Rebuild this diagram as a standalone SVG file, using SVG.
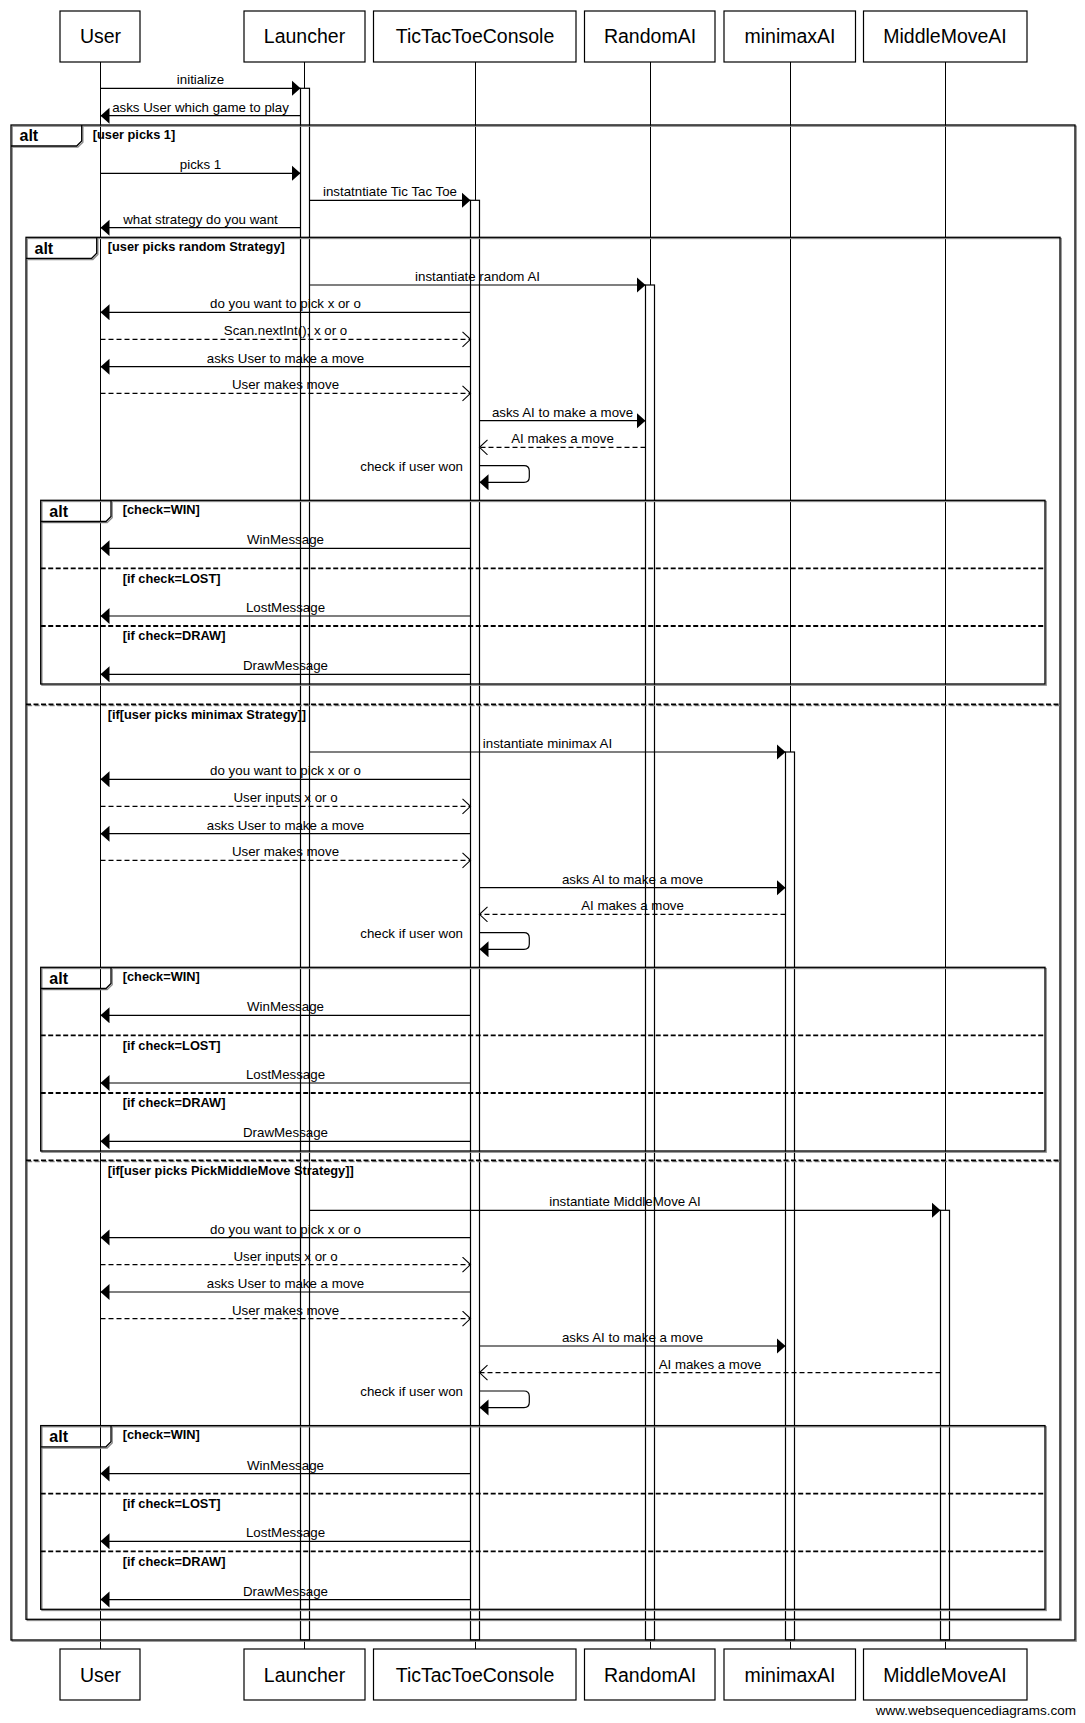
<svg xmlns="http://www.w3.org/2000/svg" width="1085" height="1723" viewBox="0 0 1085 1723">
<style>
.box{fill:#fff;stroke:#000;stroke-width:1.2}
.pname{font-family:"Liberation Sans",Arial,sans-serif;font-size:19.5px;text-anchor:middle;fill:#000}
.life{stroke:#000;stroke-width:1;fill:none}
.act{fill:#fff;stroke:#000;stroke-width:1.2}
.frame{fill:none;stroke:#000;stroke-width:1.3}
.shadow{fill:none;stroke:#8a8a8a;stroke-width:1.3}
.sep{fill:none;stroke:#000;stroke-width:1.8;stroke-dasharray:5,2.5}
.msg{stroke:#000;stroke-width:1.2;fill:none;marker-end:url(#fa)}
.ret{stroke:#000;stroke-width:1.2;fill:none;stroke-dasharray:5,3;marker-end:url(#oa)}
.lbl{font-family:"Liberation Sans",Arial,sans-serif;font-size:13.3px;text-anchor:middle;fill:#000}
.lblr{font-family:"Liberation Sans",Arial,sans-serif;font-size:13.3px;text-anchor:end;fill:#000}
.alt{font-family:"Liberation Sans",Arial,sans-serif;font-size:16px;font-weight:bold;fill:#000}
.cond{font-family:"Liberation Sans",Arial,sans-serif;font-size:12.8px;font-weight:bold;fill:#000}
.wm{font-family:"Liberation Sans",Arial,sans-serif;font-size:13.5px;text-anchor:end;fill:#000}
</style>
<defs>
<marker id="fa" markerUnits="userSpaceOnUse" markerWidth="10" markerHeight="17" refX="9" refY="8" orient="auto">
<path d="M0,0 L9,8 L0,16 Z" fill="#000"/>
</marker>
<marker id="oa" markerUnits="userSpaceOnUse" markerWidth="10" markerHeight="17" refX="8.5" refY="8" orient="auto">
<path d="M0.5,0.5 L8.5,8 L0.5,15.5" fill="none" stroke="#000" stroke-width="1.1"/>
</marker>
</defs>
<rect width="1085" height="1723" fill="#fff"/>

<g id="lifelines">
<line class="life" x1="100.5" y1="62" x2="100.5" y2="1649"/>
<line class="life" x1="304.5" y1="62" x2="304.5" y2="1649"/>
<line class="life" x1="475.5" y1="62" x2="475.5" y2="1649"/>
<line class="life" x1="650.5" y1="62" x2="650.5" y2="1649"/>
<line class="life" x1="790.5" y1="62" x2="790.5" y2="1649"/>
<line class="life" x1="945.5" y1="62" x2="945.5" y2="1649"/>
</g>

<g id="participant-User">
<rect class="box" x="60" y="11" width="80" height="51"/>
<text class="pname" x="100.5" y="43.3">User</text>
<rect class="box" x="60" y="1649" width="80" height="51"/>
<text class="pname" x="100.5" y="1681.5">User</text>
</g>
<g id="participant-Launcher">
<rect class="box" x="244" y="11" width="121" height="51"/>
<text class="pname" x="304.5" y="43.3">Launcher</text>
<rect class="box" x="244" y="1649" width="121" height="51"/>
<text class="pname" x="304.5" y="1681.5">Launcher</text>
<rect class="act" x="300.5" y="88.3" width="9" height="1551.7"/>
</g>
<g id="participant-TicTacToeConsole">
<rect class="box" x="373.5" y="11" width="202.5" height="51"/>
<text class="pname" x="475" y="43.3">TicTacToeConsole</text>
<rect class="box" x="373.5" y="1649" width="202.5" height="51"/>
<text class="pname" x="475" y="1681.5">TicTacToeConsole</text>
<rect class="act" x="470.5" y="200.3" width="9" height="1439.7"/>
</g>
<g id="participant-RandomAI">
<rect class="box" x="584.5" y="11" width="130.5" height="51"/>
<text class="pname" x="650" y="43.3">RandomAI</text>
<rect class="box" x="584.5" y="1649" width="130.5" height="51"/>
<text class="pname" x="650" y="1681.5">RandomAI</text>
<rect class="act" x="645.5" y="285" width="9" height="1355"/>
</g>
<g id="participant-minimaxAI">
<rect class="box" x="724" y="11" width="131.5" height="51"/>
<text class="pname" x="790" y="43.3">minimaxAI</text>
<rect class="box" x="724" y="1649" width="131.5" height="51"/>
<text class="pname" x="790" y="1681.5">minimaxAI</text>
<rect class="act" x="785.5" y="752" width="9" height="888"/>
</g>
<g id="participant-MiddleMoveAI">
<rect class="box" x="863.5" y="11" width="163.5" height="51"/>
<text class="pname" x="945" y="43.3">MiddleMoveAI</text>
<rect class="box" x="863.5" y="1649" width="163.5" height="51"/>
<text class="pname" x="945" y="1681.5">MiddleMoveAI</text>
<rect class="act" x="940.5" y="1210.3" width="9" height="429.7"/>
</g>

<g id="frames">
<g id="alt-outer">
<rect class="shadow" x="12.2" y="126.2" width="1064" height="1515"/>
<path class="shadow" d="M12.2,147.2 H77.9 L82.9,142.2 V126.2"/>
<rect class="frame" x="11" y="125" width="1064" height="1515"/>
<path class="frame" d="M11,146 H76.7 L81.7,141 V125"/>
<text class="alt" x="19.5" y="141.3">alt</text>
<text class="cond" x="92.7" y="139">[user picks 1]</text>
</g>
<g id="alt-strategy">
<rect class="shadow" x="27.2" y="238.5" width="1034" height="1382"/>
<path class="shadow" d="M27.2,259.5 H92.9 L97.9,254.5 V238.5"/>
<rect class="frame" x="26" y="237.3" width="1034" height="1382"/>
<path class="frame" d="M26,258.3 H91.7 L96.7,253.3 V237.3"/>
<text class="alt" x="34.5" y="253.6">alt</text>
<text class="cond" x="107.7" y="251.3">[user picks random Strategy]</text>
<line class="shadow" x1="27.2" y1="705.5" x2="1060" y2="705.5" stroke-dasharray="5,2.5"/>
<line class="sep" x1="26" y1="704.3" x2="1060" y2="704.3"/>
<text class="cond" x="107.7" y="719">[if[user picks minimax Strategy]]</text>
<line class="shadow" x1="27.2" y1="1161.5" x2="1060" y2="1161.5" stroke-dasharray="5,2.5"/>
<line class="sep" x1="26" y1="1160.3" x2="1060" y2="1160.3"/>
<text class="cond" x="107.7" y="1175">[if[user picks PickMiddleMove Strategy]]</text>
</g>
<g id="alt-check-1">
<rect class="shadow" x="41.9" y="501.5" width="1004.3" height="183.7"/>
<path class="shadow" d="M41.9,522.7 H107.2 L112.2,517.7 V501.5"/>
<rect class="frame" x="40.7" y="500.3" width="1004.3" height="183.7"/>
<path class="frame" d="M40.7,521.5 H106 L111,516.5 V500.3"/>
<text class="alt" x="49.3" y="516.7">alt</text>
<text class="cond" x="122.7" y="514">[check=WIN]</text>
<line class="sep" x1="40.7" y1="568.3" x2="1045" y2="568.3"/>
<text class="cond" x="122.7" y="582.5">[if check=LOST]</text>
<line class="sep" x1="40.7" y1="626" x2="1045" y2="626"/>
<text class="cond" x="122.7" y="640.3">[if check=DRAW]</text>
</g>
<g id="alt-check-2">
<rect class="shadow" x="41.9" y="968.5" width="1004.3" height="183.7"/>
<path class="shadow" d="M41.9,989.7 H107.2 L112.2,984.7 V968.5"/>
<rect class="frame" x="40.7" y="967.3" width="1004.3" height="183.7"/>
<path class="frame" d="M40.7,988.5 H106 L111,983.5 V967.3"/>
<text class="alt" x="49.3" y="983.7">alt</text>
<text class="cond" x="122.7" y="981">[check=WIN]</text>
<line class="sep" x1="40.7" y1="1035.3" x2="1045" y2="1035.3"/>
<text class="cond" x="122.7" y="1049.5">[if check=LOST]</text>
<line class="sep" x1="40.7" y1="1093" x2="1045" y2="1093"/>
<text class="cond" x="122.7" y="1107.3">[if check=DRAW]</text>
</g>
<g id="alt-check-3">
<rect class="shadow" x="41.9" y="1426.8" width="1004.3" height="183.7"/>
<path class="shadow" d="M41.9,1448 H107.2 L112.2,1443 V1426.8"/>
<rect class="frame" x="40.7" y="1425.6" width="1004.3" height="183.7"/>
<path class="frame" d="M40.7,1446.8 H106 L111,1441.8 V1425.6"/>
<text class="alt" x="49.3" y="1442">alt</text>
<text class="cond" x="122.7" y="1439.3">[check=WIN]</text>
<line class="sep" x1="40.7" y1="1493.6" x2="1045" y2="1493.6"/>
<text class="cond" x="122.7" y="1507.8">[if check=LOST]</text>
<line class="sep" x1="40.7" y1="1551.3" x2="1045" y2="1551.3"/>
<text class="cond" x="122.7" y="1565.6">[if check=DRAW]</text>
</g>
</g>

<g id="connectors">
<path class="msg" d="M100.5,88.3 H300.5"/>
<text class="lbl" x="200.5" y="84.3">initialize</text>
<path class="msg" d="M300.5,115.7 H100.5"/>
<text class="lbl" x="200.5" y="111.7">asks User which game to play</text>
<path class="msg" d="M100.5,173.3 H300.5"/>
<text class="lbl" x="200.5" y="169.3">picks 1</text>
<path class="msg" d="M309.5,200.3 H470.5"/>
<text class="lbl" x="390" y="196.3">instatntiate Tic Tac Toe</text>
<path class="msg" d="M300.5,227.7 H100.5"/>
<text class="lbl" x="200.5" y="223.7">what strategy do you want</text>

<path class="msg" d="M309.5,285 H645.5"/>
<text class="lbl" x="477.5" y="281">instantiate random AI</text>
<path class="msg" d="M470.5,312.3 H100.5"/>
<text class="lbl" x="285.5" y="308.3">do you want to pick x or o</text>
<path class="ret" d="M100.5,339.3 H470.5"/>
<text class="lbl" x="285.5" y="335.3">Scan.nextInt(); x or o</text>
<path class="msg" d="M470.5,366.7 H100.5"/>
<text class="lbl" x="285.5" y="362.7">asks User to make a move</text>
<path class="ret" d="M100.5,393.3 H470.5"/>
<text class="lbl" x="285.5" y="389.3">User makes move</text>
<path class="msg" d="M479.5,420.7 H645.5"/>
<text class="lbl" x="562.5" y="416.7">asks AI to make a move</text>
<path class="ret" d="M645.5,447.3 H479.5"/>
<text class="lbl" x="562.5" y="443.3">AI makes a move</text>
<path class="msg" d="M479.5,465.7 H524 Q529.3,465.7 529.3,471 V477 Q529.3,482.3 524,482.3 H479.5"/>
<text class="lblr" x="463" y="470.5">check if user won</text>
<path class="msg" d="M470.5,548.3 H100.5"/>
<text class="lbl" x="285.5" y="544.3">WinMessage</text>
<path class="msg" d="M470.5,616 H100.5"/>
<text class="lbl" x="285.5" y="612">LostMessage</text>
<path class="msg" d="M470.5,674.3 H100.5"/>
<text class="lbl" x="285.5" y="670.3">DrawMessage</text>

<path class="msg" d="M309.5,752 H785.5"/>
<text class="lbl" x="547.5" y="748">instantiate minimax AI</text>
<path class="msg" d="M470.5,779.3 H100.5"/>
<text class="lbl" x="285.5" y="775.3">do you want to pick x or o</text>
<path class="ret" d="M100.5,806.3 H470.5"/>
<text class="lbl" x="285.5" y="802.3">User inputs x or o</text>
<path class="msg" d="M470.5,833.7 H100.5"/>
<text class="lbl" x="285.5" y="829.7">asks User to make a move</text>
<path class="ret" d="M100.5,860.3 H470.5"/>
<text class="lbl" x="285.5" y="856.3">User makes move</text>
<path class="msg" d="M479.5,887.7 H785.5"/>
<text class="lbl" x="632.5" y="883.7">asks AI to make a move</text>
<path class="ret" d="M785.5,914.3 H479.5"/>
<text class="lbl" x="632.5" y="910.3">AI makes a move</text>
<path class="msg" d="M479.5,932.7 H524 Q529.3,932.7 529.3,938 V944 Q529.3,949.3 524,949.3 H479.5"/>
<text class="lblr" x="463" y="937.5">check if user won</text>
<path class="msg" d="M470.5,1015.3 H100.5"/>
<text class="lbl" x="285.5" y="1011.3">WinMessage</text>
<path class="msg" d="M470.5,1083 H100.5"/>
<text class="lbl" x="285.5" y="1079">LostMessage</text>
<path class="msg" d="M470.5,1141.3 H100.5"/>
<text class="lbl" x="285.5" y="1137.3">DrawMessage</text>

<path class="msg" d="M309.5,1210.3 H940.5"/>
<text class="lbl" x="625" y="1206.3">instantiate MiddleMove AI</text>
<path class="msg" d="M470.5,1237.6 H100.5"/>
<text class="lbl" x="285.5" y="1233.6">do you want to pick x or o</text>
<path class="ret" d="M100.5,1264.6 H470.5"/>
<text class="lbl" x="285.5" y="1260.6">User inputs x or o</text>
<path class="msg" d="M470.5,1292 H100.5"/>
<text class="lbl" x="285.5" y="1288">asks User to make a move</text>
<path class="ret" d="M100.5,1318.6 H470.5"/>
<text class="lbl" x="285.5" y="1314.6">User makes move</text>
<path class="msg" d="M479.5,1346 H785.5"/>
<text class="lbl" x="632.5" y="1342">asks AI to make a move</text>
<path class="ret" d="M940.5,1372.6 H479.5"/>
<text class="lbl" x="710" y="1368.6">AI makes a move</text>
<path class="msg" d="M479.5,1391 H524 Q529.3,1391 529.3,1396.3 V1402.3 Q529.3,1407.6 524,1407.6 H479.5"/>
<text class="lblr" x="463" y="1395.8">check if user won</text>
<path class="msg" d="M470.5,1473.6 H100.5"/>
<text class="lbl" x="285.5" y="1469.6">WinMessage</text>
<path class="msg" d="M470.5,1541.3 H100.5"/>
<text class="lbl" x="285.5" y="1537.3">LostMessage</text>
<path class="msg" d="M470.5,1599.6 H100.5"/>
<text class="lbl" x="285.5" y="1595.6">DrawMessage</text>
</g>

<text class="wm" x="1076" y="1715">www.websequencediagrams.com</text>
</svg>
